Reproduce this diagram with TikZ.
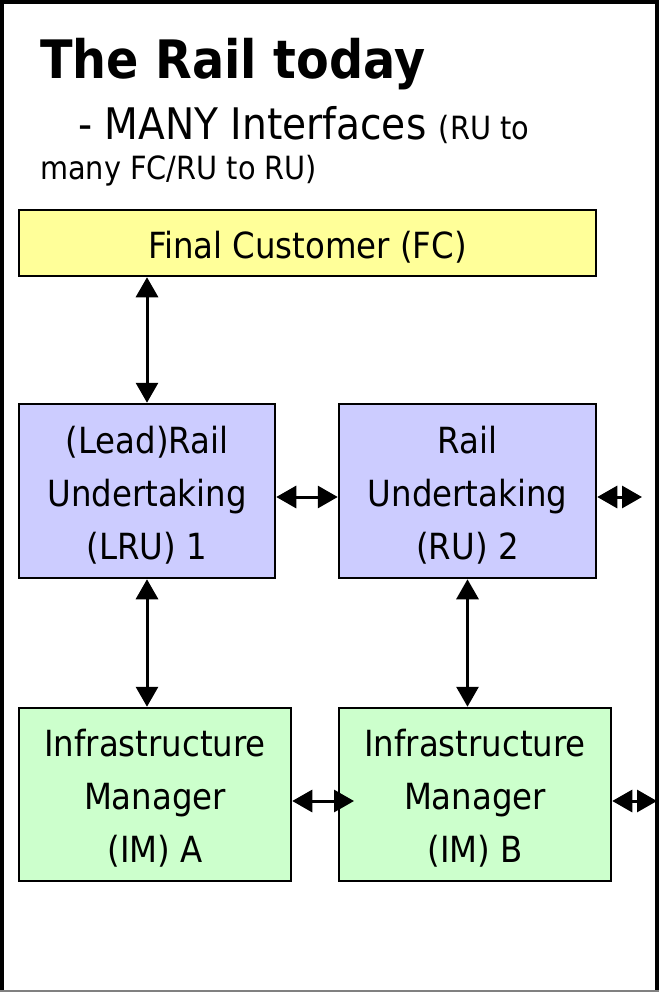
\documentclass[tikz,border=0pt]{standalone}
\usepackage{fontspec}
\setmainfont{DejaVu Sans Condensed}
\usetikzlibrary{positioning, arrows.meta}

\definecolor{fcyellow}{HTML}{FFFF99}
\definecolor{rulilac}{HTML}{CCCCFF}
\definecolor{imgreen}{HTML}{CCFFCC}
\newcommand{\boxlift}{\rule{0pt}{35pt}}

\begin{document}
\begin{tikzpicture}[x=1pt, y=-1pt,
    box/.style={draw, line width=2.5pt, align=center, inner sep=0pt,
                font=\fontsize{36}{53}\selectfont},
    link/.style={line width=3pt, {Triangle[length=20pt,width=22pt]}-{Triangle[length=20pt,width=22pt]}}]
    \useasboundingbox (0,0) rectangle (659,992);
    % frame
    \draw[line width=4pt] (2,990) -- (2,2) -- (657,2) -- (657,990);
    \draw[gray, line width=2pt] (0,991) -- (659,991);

    % heading
    \node[anchor=base west, inner sep=0pt, font=\fontsize{53}{60}\selectfont\bfseries] (title) at (40,79) {The Rail today};
    \node[anchor=base west, inner sep=0pt, font=\fontsize{43.5}{48}\selectfont] (sub) at (78,140)
        {- MANY Interfaces {\fontsize{32}{36}\selectfont (RU to}};
    \node[anchor=base west, inner sep=0pt, font=\fontsize{32}{36}\selectfont] (subtwo) at (40,180) {many FC/RU to RU)};

    % actors
    \node[box, fill=fcyellow, minimum width=577pt, minimum height=66pt] (fc) at (307.5,243) {\boxlift Final Customer (FC)};
    \node[box, fill=rulilac, minimum width=256pt, minimum height=174pt] (lru) at (147,491) {\boxlift(Lead)Rail\\Undertaking\\(LRU) 1};
    \node[box, fill=rulilac, minimum width=257pt, minimum height=174pt] (ru) at (467.5,491) {\boxlift Rail\\Undertaking\\(RU) 2};
    \node[box, fill=imgreen, minimum width=272pt, minimum height=173pt] (ima) at (155,794.5) {\boxlift Infrastructure\\Manager\\(IM) A};
    \node[box, fill=imgreen, minimum width=272pt, minimum height=173pt] (imb) at (475,794.5) {\boxlift Infrastructure\\Manager\\(IM) B};

    \coordinate (ruout) at (642,497);
    \coordinate (imbin) at (354,801);
    \coordinate (imout) at (657,801);

    % interfaces
    \draw[link] (lru.north |- fc.south) -- (lru.north);
    \draw[link] (lru.south) -- (lru.south |- ima.north);
    \draw[link] (ru.south) -- (ru.south |- imb.north);
    \draw[link] ([yshift=-6pt]lru.east) -- ([yshift=-6pt]ru.west);
    \draw[link] (ru.east |- ruout) -- (ruout);
    \draw[link] (ima.east |- imbin) -- (imbin);
    \draw[link] (imb.east |- imout) -- (imout);
\end{tikzpicture}
\end{document}
